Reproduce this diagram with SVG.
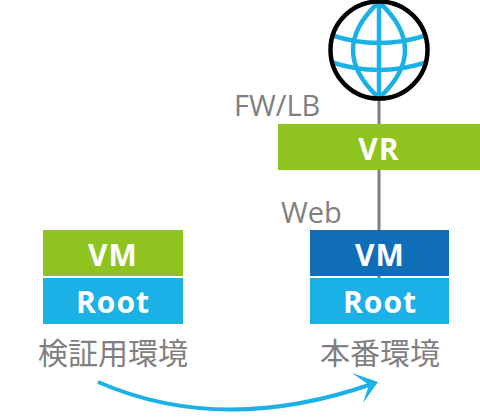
<svg xmlns="http://www.w3.org/2000/svg" width="480" height="420" viewBox="0 0 480 420">
<style>
.lb{font-family:"Open Sans","Noto Sans",sans-serif;font-size:29px;fill:#7f7f7f}
.jp{font-family:"Noto Sans CJK JP",sans-serif;font-size:30px;fill:#808080;text-anchor:middle}
.t{font-family:"Open Sans","Noto Sans",sans-serif;font-weight:700;fill:#fff;text-anchor:middle;font-size:30px;letter-spacing:1px}
.g{fill:#8fc31f}.c{fill:#1bb1e7}.d{fill:#106eb9}
.m{fill:none;stroke:#1bb1e7;stroke-width:4.5}
</style>
<defs><clipPath id="gc"><circle cx="379" cy="50" r="47"/></clipPath></defs>
<g id="connectors">
<line x1="379" y1="95" x2="379" y2="278" stroke="#7f7f7f" stroke-width="3"/>
<path d="M98 382Q222 436 372 384" fill="none" stroke="#1bb1e7" stroke-width="4"/>
<path d="M352 373L378 382L363 403L369 385Z" fill="#1bb1e7"/>
</g>
<g id="globe">
<circle cx="379" cy="50" r="48" fill="#fff"/>
<g clip-path="url(#gc)">
<path class="m" d="M379 2V98M331 35Q379 51 427 35M331 62Q379 78 427 62M379 2Q327 50 379 98M379 2Q431 50 379 98"/>
</g>
<circle cx="379" cy="50" r="48.5" fill="none" stroke="#000" stroke-width="4.5"/>
</g>
<g id="vr"><rect class="g" x="278" y="124" width="202" height="46"/><text class="t" x="379" y="160">VR</text></g>
<g id="vm-test"><rect class="g" x="43" y="230" width="140" height="46"/><text class="t" x="113" y="266">VM</text></g>
<g id="root-test"><rect class="c" x="43" y="278" width="140" height="46"/><text class="t" x="113" y="313">Root</text></g>
<g id="vm-prod"><rect class="d" x="310" y="230" width="139" height="46"/><text class="t" x="380" y="266">VM</text></g>
<g id="root-prod"><rect class="c" x="310" y="278" width="139" height="46"/><text class="t" x="380" y="313">Root</text></g>
<text class="lb" x="234" y="116">FW/LB</text>
<text class="lb" x="281" y="223">Web</text>
<text class="jp" x="113" y="364">検証用環境</text>
<text class="jp" x="380" y="364">本番環境</text>
</svg>
